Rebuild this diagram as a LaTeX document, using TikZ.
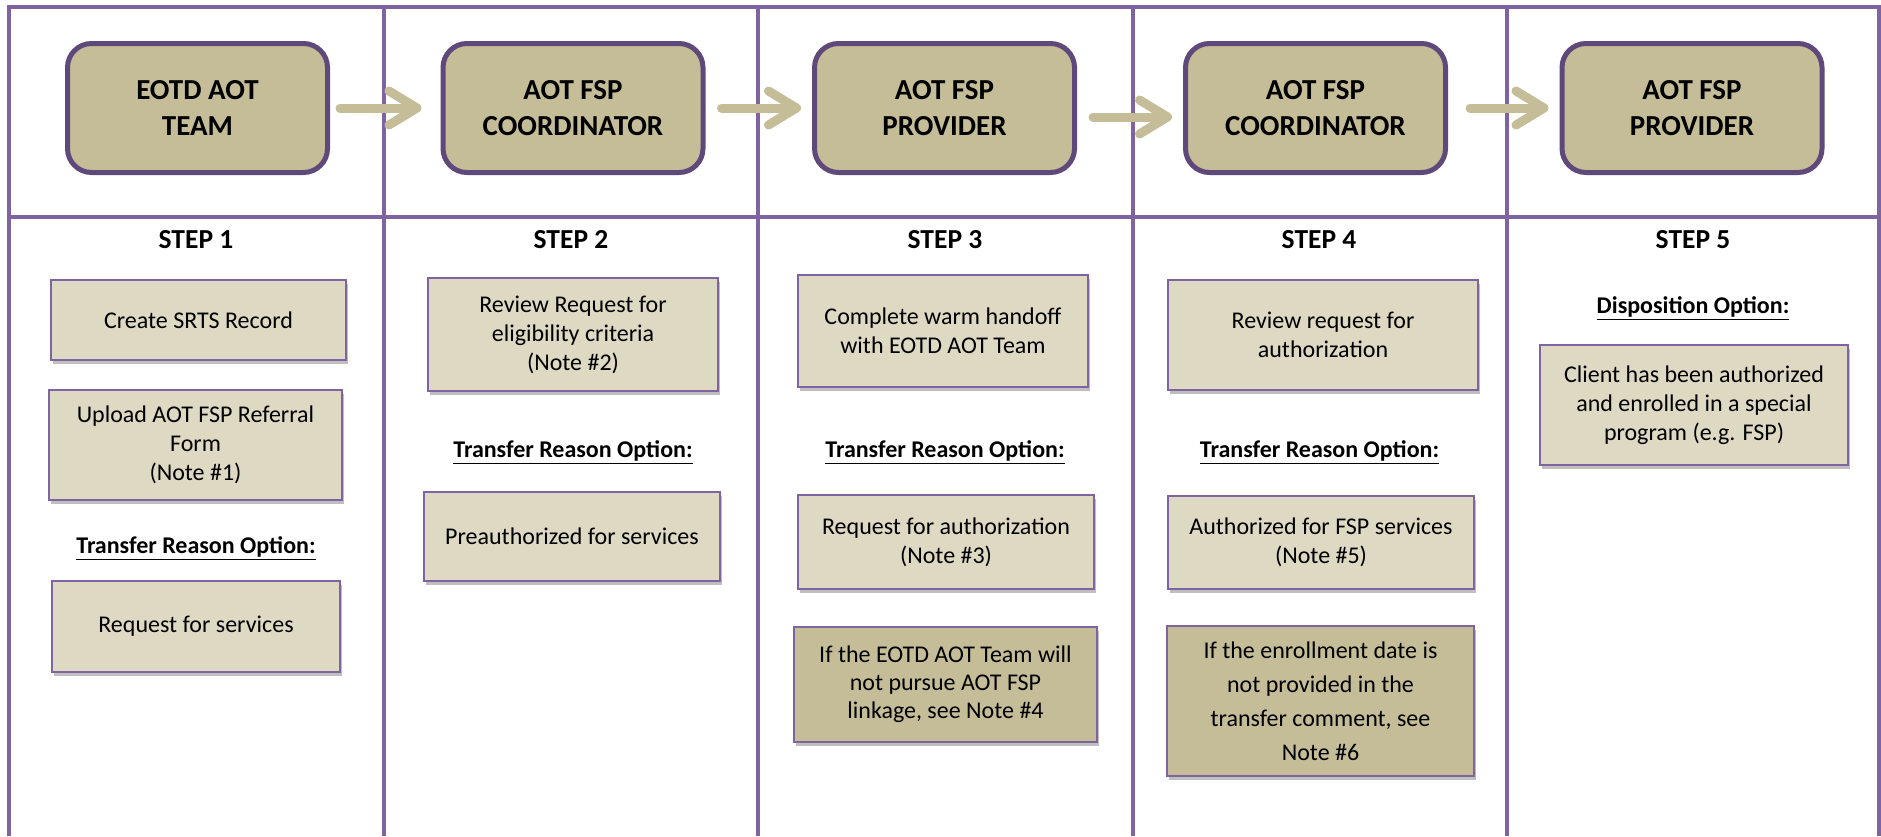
\documentclass[tikz,border=0pt]{standalone}
\usepackage{fontspec}
\setmainfont{Carlito}
\usetikzlibrary{arrows.meta,shadows}
\definecolor{framepurple}{HTML}{8064A2}
\definecolor{darkpurple}{HTML}{5F497A}
\definecolor{khaki}{HTML}{C4BD97}
\definecolor{paleKhaki}{HTML}{DDD9C3}
\tikzset{
	frame/.style={draw=framepurple, line width=3.5pt},
	role/.style={draw=darkpurple, line width=5pt, fill=khaki, rounded corners=24pt,
		minimum width=260pt, minimum height=129pt, align=center,
		font=\fontsize{29}{36}\selectfont\bfseries},
	steplabel/.style={font=\fontsize{27.5}{32}\selectfont\bfseries},
	optlabel/.style={font=\fontsize{24}{29}\selectfont\bfseries},
	task/.style={draw=framepurple, line width=2pt, fill=paleKhaki, align=center,
		font=\fontsize{24}{29}\selectfont, inner sep=0pt,
		drop shadow={shadow xshift=2pt, shadow yshift=-4pt, opacity=0.25, fill=black}},
	note/.style={task, fill=khaki},
	handoff/.style={draw=khaki, line width=9pt, line cap=round,
		-{Straight Barb[length=28pt, width=34pt, round]},
		shorten <=16pt, shorten >=11pt}
}
\begin{document}
\begin{tikzpicture}[x=1pt, y=-1pt]
	\useasboundingbox[fill=white] (0,0) rectangle (1881,836);

	% table lines
	\draw[frame] (9,836) -- (9,7) -- (1879,7) -- (1879,836);
	\draw[frame] (9,217) -- (1879,217);
	\draw[frame] (384,7) -- (384,836);
	\draw[frame] (758,7) -- (758,836);
	\draw[frame] (1133,7) -- (1133,836);
	\draw[frame] (1507,7) -- (1507,836);

	% header row
	\node[role] (hd1) at (197.5,108) {EOTD AOT\\TEAM};
	\node[role] (hd2) at (573,108) {AOT FSP\\COORDINATOR};
	\node[role] (hd3) at (944.5,108) {AOT FSP\\PROVIDER};
	\node[role] (hd4) at (1315.5,108) {AOT FSP\\COORDINATOR};
	\node[role] (hd5) at (1692,108) {AOT FSP\\PROVIDER};

	\draw[handoff, shorten <=10pt, shorten >=19pt] (hd1) -- (hd2);
	\draw[handoff] (hd2) -- (hd3);
	\draw[handoff] ([yshift=-9pt]hd3.east) -- ([yshift=-9pt]hd4.west);
	\draw[handoff, shorten <=22pt] (hd4) -- (hd5);

	% step labels
	\node[steplabel] (st1) at (196,240) {STEP 1};
	\node[steplabel] (st2) at (571,240) {STEP 2};
	\node[steplabel] (st3) at (945,240) {STEP 3};
	\node[steplabel] (st4) at (1319,240) {STEP 4};
	\node[steplabel] (st5) at (1693,240) {STEP 5};

	% step 1
	\node[task, minimum width=295pt, minimum height=80pt] (srts) at (198.5,320) {Create SRTS Record};
	\node[task, minimum width=293pt, minimum height=110pt] (upload) at (195.5,445) {Upload AOT FSP Referral\\Form\\(Note \#1)};
	\node[optlabel] (opt1) at (196,548) {\underline{Transfer Reason Option:}};
	\node[task, minimum width=288pt, minimum height=91pt] (reqsvc) at (196,626.5) {Request for services};

	% step 2
	\node[task, minimum width=290pt, minimum height=113pt] (review) at (573,334.5) {Review Request for\\eligibility criteria\\(Note \#2)};
	\node[optlabel] (opt2) at (573,452) {\underline{Transfer Reason Option:}};
	\node[task, minimum width=296pt, minimum height=89pt] (preauth) at (572,536.5) {Preauthorized for services};

	% step 3
	\node[task, minimum width=290pt, minimum height=112pt] (warm) at (943,331) {Complete warm handoff\\with EOTD AOT Team};
	\node[optlabel] (opt3) at (945,452) {\underline{Transfer Reason Option:}};
	\node[task, minimum width=296pt, minimum height=94pt] (reqauth) at (946,542) {Request for authorization\\(Note \#3)};
	\node[note, minimum width=303pt, minimum height=115pt, font=\fontsize{24}{28}\selectfont] (pursue) at (945.5,684.5) {If the EOTD AOT Team will\\not pursue AOT FSP\\linkage, see Note \#4};

	% step 4
	\node[task, minimum width=310pt, minimum height=110pt] (authrev) at (1323,335) {Review request for\\authorization};
	\node[optlabel] (opt4) at (1319.5,452) {\underline{Transfer Reason Option:}};
	\node[task, minimum width=306pt, minimum height=93pt] (authfsp) at (1321,542.5) {Authorized for FSP services\\(Note \#5)};
	\node[note, minimum width=307pt, minimum height=150pt, font=\fontsize{24}{34}\selectfont] (enroll) at (1320.5,701) {If the enrollment date is\\not provided in the\\transfer comment, see\\Note \#6};

	% step 5
	\node[optlabel] (opt5) at (1693,308) {\underline{Disposition Option:}};
	\node[task, minimum width=308pt, minimum height=120pt] (client) at (1694,405) {Client has been authorized\\and enrolled in a special\\program (e.g. FSP)};
\end{tikzpicture}
\end{document}
